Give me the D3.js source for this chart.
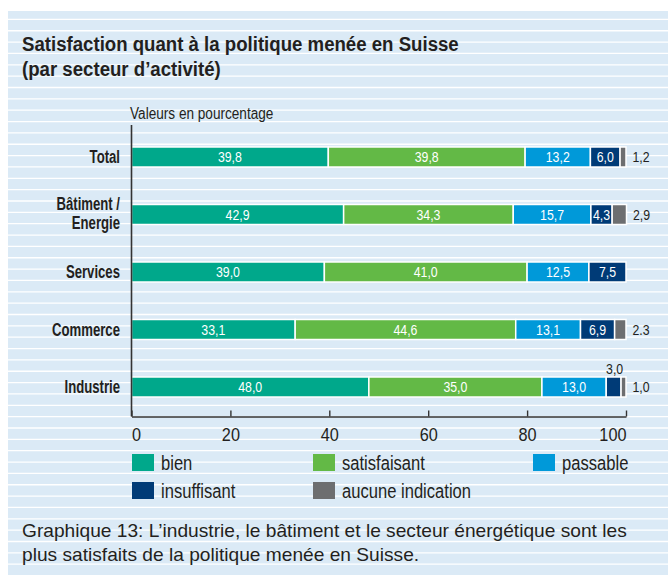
<!DOCTYPE html>
<html>
<head>
<meta charset="utf-8">
<script src="https://cdn.jsdelivr.net/npm/d3@7"></script>
<style>
    body { margin: 0; background: #fff; }
    svg { display: block; font-family: "Liberation Sans", Arial, sans-serif; }
</style>
</head>
<body>
<svg id="viz" width="668" height="575"></svg>
<script>
let categories = ["Total", "Bâtiment /|Energie", "Services", "Commerce", "Industrie"];
let seriesNames = ["bien", "satisfaisant", "passable", "insuffisant", "aucune indication"];
let bien = [39.8, 42.9, 39.0, 33.1, 48.0];
let satisfaisant = [39.8, 34.3, 41.0, 44.6, 35.0];
let passable = [13.2, 15.7, 12.5, 13.1, 13.0];
let insuffisant = [6.0, 4.3, 7.5, 6.9, 3.0];
let aucune = [1.2, 2.9, 0, 2.3, 1.0];
// the printed chart writes "2.3" with a dot for Commerce, kept as printed
let aucuneLabels = ["1,2", "2,9", "", "2.3", "1,0"];
let xTicks = [0, 20, 40, 60, 80, 100];

let colors = ["#00a88b", "#63b946", "#0099d9", "#003b77", "#6d6e70"];
let ink = "#231f20";

let width = 668, height = 575;
let svg = d3.select("#viz");

// the print uses a condensed face: squeeze the glyphs horizontally
function squeeze(sel, k) {
    sel.each(function () {
        let w = this.getComputedTextLength();
        d3.select(this).attr("textLength", w * k).attr("lengthAdjust", "spacingAndGlyphs");
    });
}

// striped light blue panel
svg.append("rect")
    .attr("x", 8).attr("y", 11)
    .attr("width", width - 8).attr("height", height - 11)
    .attr("fill", "#dbeaf6");
svg.append("g")
    .selectAll("line")
    .data(d3.range(19.4, height, 11.35))
    .enter().append("line")
    .attr("x1", 8).attr("x2", width)
    .attr("y1", function (d) { return d; })
    .attr("y2", function (d) { return d; })
    .attr("stroke", "#fff")
    .attr("stroke-width", 1.3);

let title = svg.append("g")
    .attr("font-size", 19.5).attr("font-weight", "bold").attr("fill", ink);
title.append("text").attr("x", 22).attr("y", 51)
    .text("Satisfaction quant à la politique menée en Suisse");
title.append("text").attr("x", 22).attr("y", 76)
    .text("(par secteur d’activité)");
squeeze(title.selectAll("text"), 0.955);

let unit = svg.append("text")
    .attr("x", 130).attr("y", 119)
    .attr("font-size", 16).attr("fill", ink)
    .text("Valeurs en pourcentage");
squeeze(unit, 0.85);

let x = d3.scaleLinear().domain([0, 100]).range([131.5, 626]);
let y = d3.scaleBand().domain(categories).range([128.25, 415.75])
    .paddingInner(0.652).paddingOuter(0.326);

let rows = categories.map(function (c, i) {
    return {cat: c, bien: bien[i], satisfaisant: satisfaisant[i], passable: passable[i],
        insuffisant: insuffisant[i], aucune: aucune[i]};
});
let keys = ["bien", "satisfaisant", "passable", "insuffisant", "aucune"];
let stack = d3.stack().keys(keys)(rows);
let fmt = function (v) { return d3.format(".1f")(v).replace(".", ","); };

let layers = svg.append("g").selectAll("g")
    .data(stack)
    .enter().append("g")
    .attr("fill", function (d, i) { return colors[i]; });

layers.selectAll("rect")
    .data(function (d) { return d.filter(function (s) { return s[1] > s[0]; }); })
    .enter().append("rect")
    .attr("x", function (d) { return x(d[0]); })
    .attr("y", function (d) { return y(d.data.cat); })
    .attr("width", function (d) { return x(d[1]) - x(d[0]); })
    .attr("height", y.bandwidth())
    .attr("stroke", "#fff")
    .attr("stroke-width", 1.5);

// segment labels: white inside, dark beside or above the narrow ones
let labels = svg.append("g").attr("font-size", 14.5);
stack.forEach(function (layer, li) {
    layer.forEach(function (s, ri) {
        let v = s[1] - s[0];
        if (v <= 0) return;
        let cy = y(s.data.cat) + y.bandwidth() / 2 + 5.3;
        if (li === 4) {
            labels.append("text")
                .attr("x", x(s[1]) + 6.5).attr("y", cy)
                .attr("fill", ink).text(aucuneLabels[ri]);
        } else if (v < 4) {
            labels.append("text")
                .attr("x", x((s[0] + s[1]) / 2) + 1).attr("y", y(s.data.cat) - 3)
                .attr("text-anchor", "middle").attr("fill", ink).text(fmt(v));
        } else {
            labels.append("text")
                .attr("x", x((s[0] + s[1]) / 2)).attr("y", cy)
                .attr("text-anchor", "middle").attr("fill", "#fff").text(fmt(v));
        }
    });
});
squeeze(labels.selectAll("text"), 0.85);

// category names, one text per line
let catG = svg.append("g")
    .attr("font-size", 18).attr("font-weight", "bold").attr("fill", ink)
    .attr("text-anchor", "end");
categories.forEach(function (d) {
    let parts = d.split("|");
    let cy = y(d) + y.bandwidth() / 2 + (parts.length > 1 ? -4.3 : 6.3);
    parts.forEach(function (p, k) {
        catG.append("text")
            .attr("x", 120).attr("y", cy + k * 18.3)
            .text(p);
    });
});
squeeze(catG.selectAll("text"), 0.73);

// axes
let axisY = 416.5;
svg.append("line")
    .attr("x1", x(0)).attr("x2", x(0)).attr("y1", 125).attr("y2", axisY)
    .attr("stroke", "#333").attr("stroke-width", 1.6);
let xAxis = svg.append("g")
    .attr("transform", "translate(0," + axisY + ")")
    .call(d3.axisBottom(x).tickValues(xTicks).tickSizeInner(-6).tickSizeOuter(0).tickPadding(11));
xAxis.attr("font-family", null).attr("font-size", null);
xAxis.select(".domain").attr("stroke", "#333").attr("stroke-width", 1.6);
xAxis.selectAll(".tick line").attr("stroke", "#333").attr("stroke-width", 1.4);
xAxis.selectAll(".tick text")
    .attr("font-size", 18.5).attr("fill", ink)
    .attr("text-anchor", function (d) { return d === 0 ? "start" : d === 100 ? "end" : "middle"; });
squeeze(xAxis.selectAll(".tick text"), 0.88);

// legend
let legendPos = [[132, 454], [313, 454], [533, 454], [132, 482], [313, 482]];
let legend = svg.append("g").selectAll("g")
    .data(seriesNames)
    .enter().append("g")
    .attr("transform", function (d, i) { return "translate(" + legendPos[i][0] + "," + legendPos[i][1] + ")"; });
legend.append("rect")
    .attr("width", 22).attr("height", 17)
    .attr("fill", function (d, i) { return colors[i]; });
legend.append("text")
    .attr("x", 29).attr("y", 16)
    .attr("font-size", 19.5).attr("fill", ink)
    .text(function (d) { return d; });
squeeze(legend.selectAll("text"), 0.85);

let caption = svg.append("g").attr("font-size", 19).attr("fill", ink);
caption.append("text").attr("x", 22).attr("y", 537)
    .text("Graphique 13: L’industrie, le bâtiment et le secteur énergétique sont les");
caption.append("text").attr("x", 22).attr("y", 561)
    .text("plus satisfaits de la politique menée en Suisse.");
squeeze(caption.selectAll("text"), 1.008);
</script>
</body>
</html>
